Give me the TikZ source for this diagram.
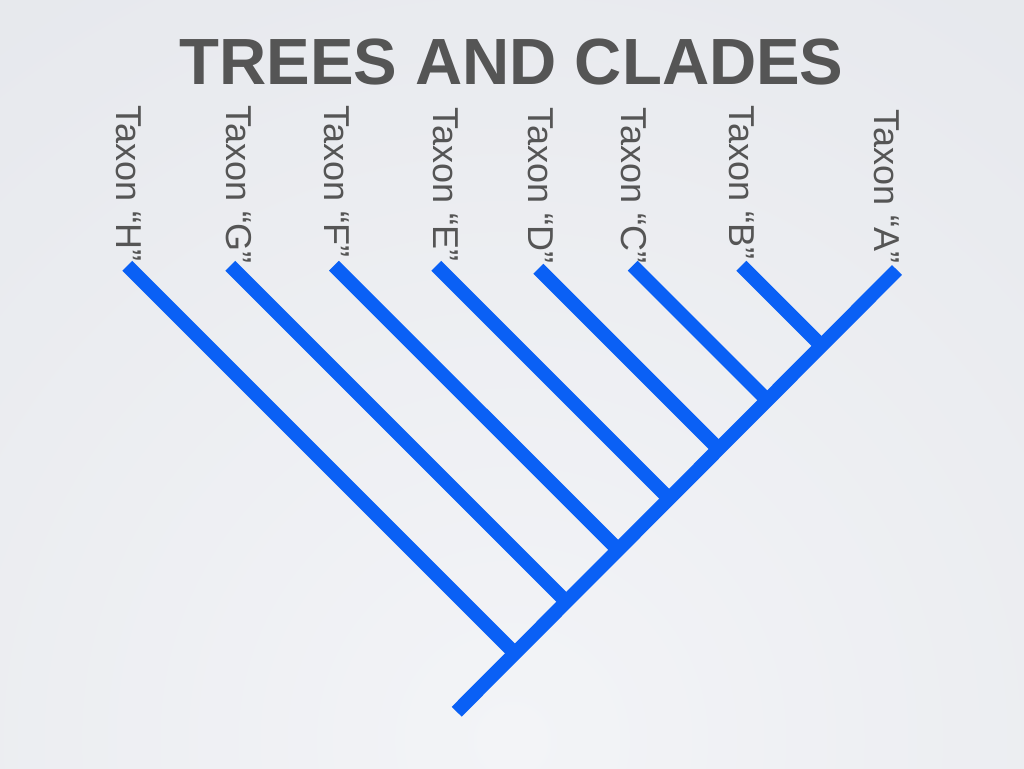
\documentclass[tikz,border=0pt]{standalone}
\usepackage{fontspec}
\setmainfont{Liberation Sans}
\definecolor{treeblue}{RGB}{10,96,245}
\definecolor{textgray}{RGB}{85,85,85}
\definecolor{bgouter}{RGB}{218,221,227}
\definecolor{bginner}{RGB}{243,244,247}
\tikzset{
  branch/.style={draw=treeblue, line width=10.5pt, line cap=butt},
  taxon/.style={rotate=-90, anchor=base west, inner sep=0pt, text=textgray,
    font=\fontsize{27}{27}\selectfont},
  titletext/.style={anchor=base, inner sep=0pt, text=textgray,
    font=\fontsize{49}{49}\selectfont\bfseries}
}
\begin{document}
\begin{tikzpicture}[x=0.75pt,y=-0.75pt]
\useasboundingbox (0,0) rectangle (1024,768);
\begin{scope}
  \clip (0,0) rectangle (1024,768);
  \shade[inner color=bginner, outer color=bgouter] (512,740) circle[radius=1800];
\end{scope}

\node[titletext] (title) at (511.5,84) {TREES AND CLADES};

% labels
\node[taxon] (lH) at (116.7,105) {Taxon “H”};
\node[taxon] (lG) at (226,105) {Taxon “G”};
\node[taxon] (lF) at (324,105) {Taxon “F”};
\node[taxon] (lE) at (433.3,107) {Taxon “E”};
\node[taxon] (lD) at (528.3,107) {Taxon “D”};
\node[taxon] (lC) at (621.7,107) {Taxon “C”};
\node[taxon] (lB) at (729.3,105) {Taxon “B”};
\node[taxon] (lA) at (874,109) {Taxon “A”};

% tips, root and joints
\coordinate (tH) at (127.3,265.7);
\coordinate (tG) at (230.3,265.7);
\coordinate (tF) at (334,265.7);
\coordinate (tE) at (436.3,265.7);
\coordinate (tD) at (538.3,268.7);
\coordinate (tC) at (632.7,265.7);
\coordinate (tB) at (741.3,265.7);
\coordinate (tA) at (897,270);
\coordinate (root) at (456.7,711.7);

\coordinate (jH) at (514.8,653.2);
\coordinate (jG) at (566.3,601.7);
\coordinate (jF) at (618.2,549.8);
\coordinate (jE) at (669.3,498.7);
\coordinate (jD) at (718.8,449.2);
\coordinate (jC) at (767.5,400.5);
\coordinate (jB) at (821.8,346.2);

% tree
\draw[branch] (tH) -- (jH);
\draw[branch] (tG) -- (jG);
\draw[branch] (tF) -- (jF);
\draw[branch] (tE) -- (jE);
\draw[branch] (tD) -- (jD);
\draw[branch] (tC) -- (jC);
\draw[branch] (tB) -- (jB);
\draw[branch] (root) -- (tA);
\end{tikzpicture}
\end{document}
